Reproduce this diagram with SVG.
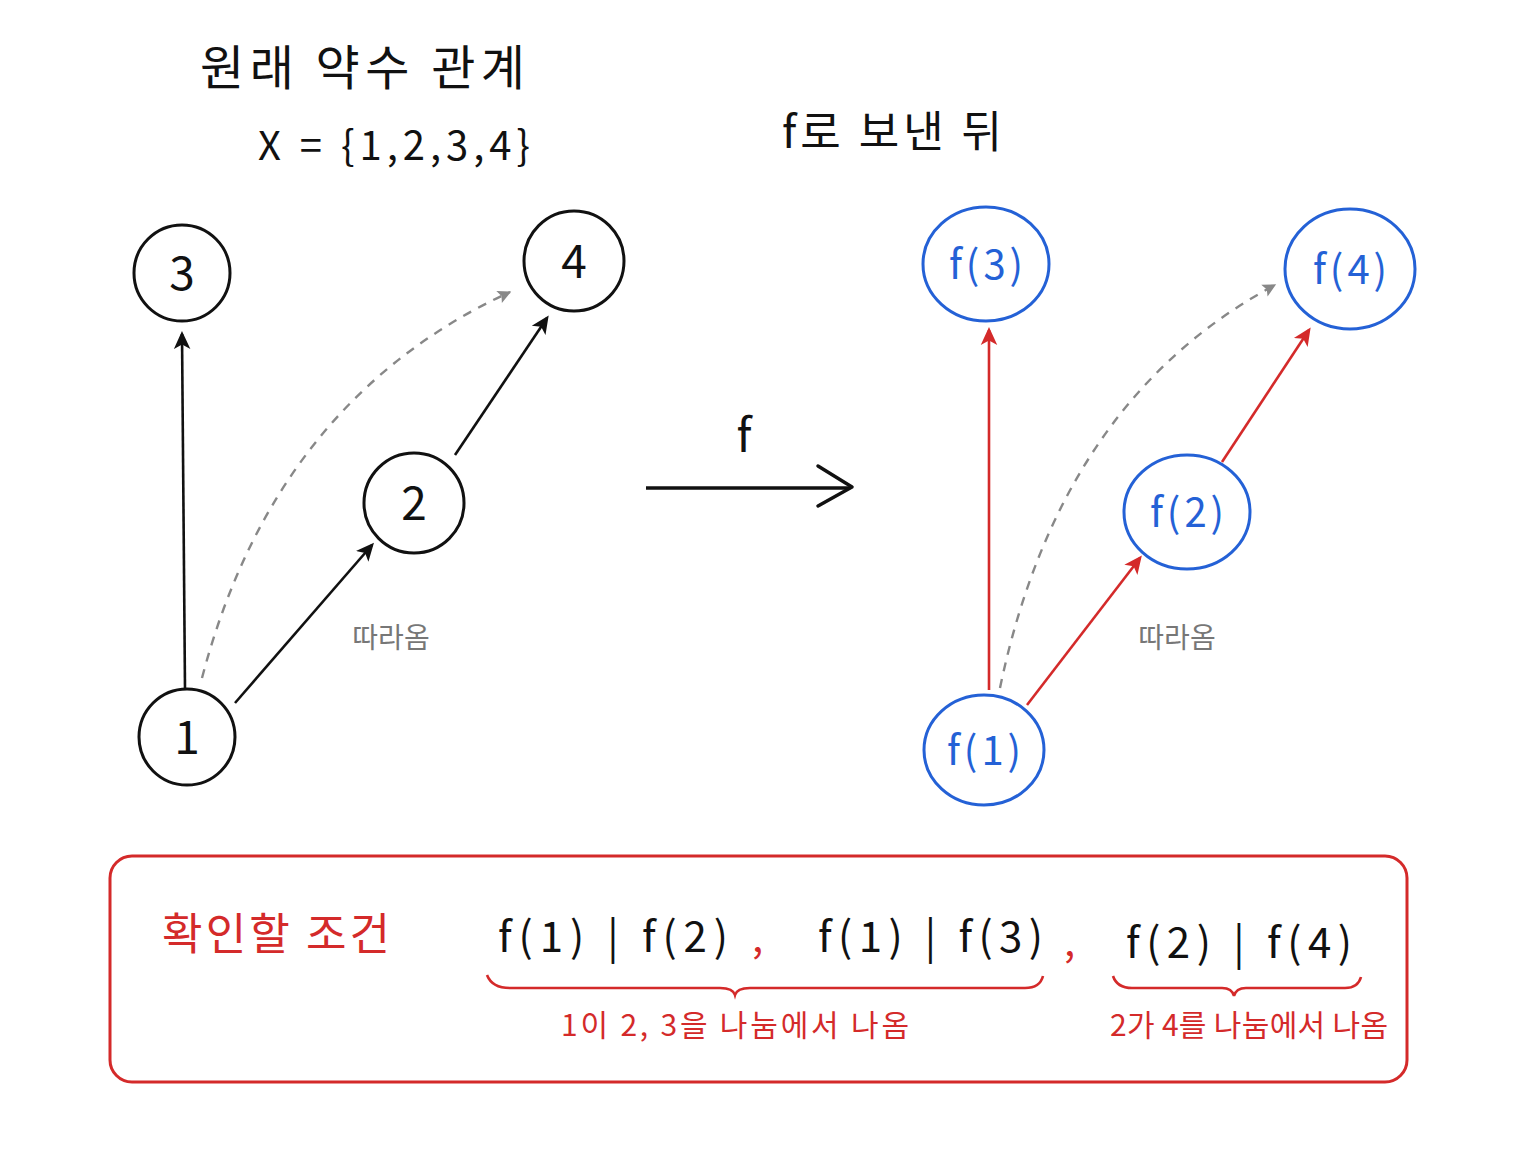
<svg xmlns="http://www.w3.org/2000/svg" width="1536" height="1152" viewBox="0 0 1536 1152">
<defs>
<style>
.t{font-family:"Noto Sans CJK KR","Noto Sans",sans-serif;}
.blk{fill:#111;}
.red{fill:#d42a2a;}
.blue{fill:#2461d6;letter-spacing:4px;}
.gray{fill:#777;}
.nb{fill:#fff;stroke:#111;stroke-width:3;}
.nbl{fill:#fff;stroke:#2461d6;stroke-width:3;}
.ek{stroke:#111;stroke-width:2.6;fill:none;}
.er{stroke:#d42a2a;stroke-width:2.6;fill:none;}
.ed{stroke:#888;stroke-width:2.4;fill:none;stroke-dasharray:9 8;}
</style>
<marker id="ak" viewBox="0 0 12 12" refX="10" refY="6" markerWidth="18" markerHeight="18" markerUnits="userSpaceOnUse" orient="auto"><path d="M0,0.5 L12,6 L0,11.5 L3,6 Z" fill="#111"/></marker>
<marker id="ar" viewBox="0 0 12 12" refX="10" refY="6" markerWidth="18" markerHeight="18" markerUnits="userSpaceOnUse" orient="auto"><path d="M0,0.5 L12,6 L0,11.5 L3,6 Z" fill="#d42a2a"/></marker>
<marker id="ag" viewBox="0 0 12 12" refX="10" refY="6" markerWidth="16" markerHeight="16" markerUnits="userSpaceOnUse" orient="auto"><path d="M1,1 L11,6 L1,11 L3,6 Z" fill="#888"/></marker>
</defs>
<rect width="1536" height="1152" fill="#fff"/>

<g id="titles">
<text class="t blk" x="200" y="85" font-size="48" textLength="325" lengthAdjust="spacing">원래 약수 관계</text>
<text class="t blk" x="258" y="160" font-size="40" textLength="272" lengthAdjust="spacing">X = {1,2,3,4}</text>
<text class="t blk" x="782" y="148" font-size="44" textLength="220" lengthAdjust="spacing">f로 보낸 뒤</text>
</g>

<g id="connectors">
<line class="ek" x1="185" y1="688" x2="182" y2="334" marker-end="url(#ak)"/>
<line class="ek" x1="235" y1="703" x2="372" y2="545" marker-end="url(#ak)"/>
<line class="ek" x1="455" y1="455" x2="547" y2="318" marker-end="url(#ak)"/>
<path class="ed" d="M202,678 Q275,400 510,292" marker-end="url(#ag)"/>
<line class="er" x1="989" y1="690" x2="989" y2="330" marker-end="url(#ar)"/>
<line class="er" x1="1027" y1="705" x2="1140" y2="558" marker-end="url(#ar)"/>
<line class="er" x1="1222" y1="462" x2="1309" y2="330" marker-end="url(#ar)"/>
<path class="ed" d="M1000,688 Q1060,400 1275,285" marker-end="url(#ag)"/>
<g id="map-arrow">
<line x1="646" y1="488" x2="850" y2="488" stroke="#111" stroke-width="3.5"/>
<path d="M818,466 L852,487 L818,506" fill="none" stroke="#111" stroke-width="3.5" stroke-linecap="round" stroke-linejoin="round"/>
<text class="t blk" x="744" y="452" font-size="46" text-anchor="middle">f</text>
</g>
<text class="t gray" x="391" y="648" font-size="28" text-anchor="middle">따라옴</text>
<text class="t gray" x="1177" y="648" font-size="28" text-anchor="middle">따라옴</text>
</g>

<g id="n3"><circle class="nb" cx="182" cy="273" r="48"/><text class="t blk" x="182" y="290" font-size="46" text-anchor="middle">3</text></g>
<g id="n4"><circle class="nb" cx="574" cy="261" r="50"/><text class="t blk" x="574" y="278" font-size="46" text-anchor="middle">4</text></g>
<g id="n2"><circle class="nb" cx="414" cy="503" r="50"/><text class="t blk" x="414" y="520" font-size="46" text-anchor="middle">2</text></g>
<g id="n1"><circle class="nb" cx="187" cy="737" r="48"/><text class="t blk" x="187" y="754" font-size="46" text-anchor="middle">1</text></g>

<g id="f3"><ellipse class="nbl" cx="986" cy="264" rx="63" ry="57"/><text class="t blue" x="988" y="279" font-size="40" text-anchor="middle">f(3)</text></g>
<g id="f4"><ellipse class="nbl" cx="1350" cy="269" rx="65" ry="60"/><text class="t blue" x="1352" y="284" font-size="40" text-anchor="middle">f(4)</text></g>
<g id="f2"><ellipse class="nbl" cx="1187" cy="512" rx="63" ry="57"/><text class="t blue" x="1189" y="527" font-size="40" text-anchor="middle">f(2)</text></g>
<g id="f1"><ellipse class="nbl" cx="984" cy="750" rx="60" ry="55"/><text class="t blue" x="986" y="765" font-size="40" text-anchor="middle">f(1)</text></g>

<g id="conditions">
<rect x="110" y="856" width="1297" height="226" rx="22" fill="none" stroke="#d42a2a" stroke-width="3"/>
<text class="t red" x="162" y="950" font-size="44" textLength="228" lengthAdjust="spacing">확인할 조건</text>
<text class="t blk" x="498" y="952" font-size="42" textLength="230" lengthAdjust="spacing">f(1) | f(2)</text>
<text class="t red" x="752" y="952" font-size="40">,</text>
<text class="t blk" x="818" y="952" font-size="42" textLength="225" lengthAdjust="spacing">f(1) | f(3)</text>
<text class="t red" x="1064" y="956" font-size="40">,</text>
<text class="t blk" x="1126" y="958" font-size="42" textLength="226" lengthAdjust="spacing">f(2) | f(4)</text>
<path d="M487,975 Q492,988 510,988 L720,988 Q733,988 735,995 Q737,988 750,988 L1025,988 Q1040,988 1043,976" fill="none" stroke="#d42a2a" stroke-width="2.6"/>
<path d="M1113,976 Q1117,988 1132,988 L1222,988 Q1232,988 1234,996 Q1236,988 1246,988 L1345,988 Q1358,988 1361,977" fill="none" stroke="#d42a2a" stroke-width="2.6"/>
<text class="t red" x="735" y="1036" font-size="30" text-anchor="middle" textLength="348" lengthAdjust="spacing">1이 2, 3을 나눔에서 나옴</text>
<text class="t red" x="1249" y="1036" font-size="30" text-anchor="middle" textLength="278" lengthAdjust="spacing">2가 4를 나눔에서 나옴</text>
</g>
</svg>
